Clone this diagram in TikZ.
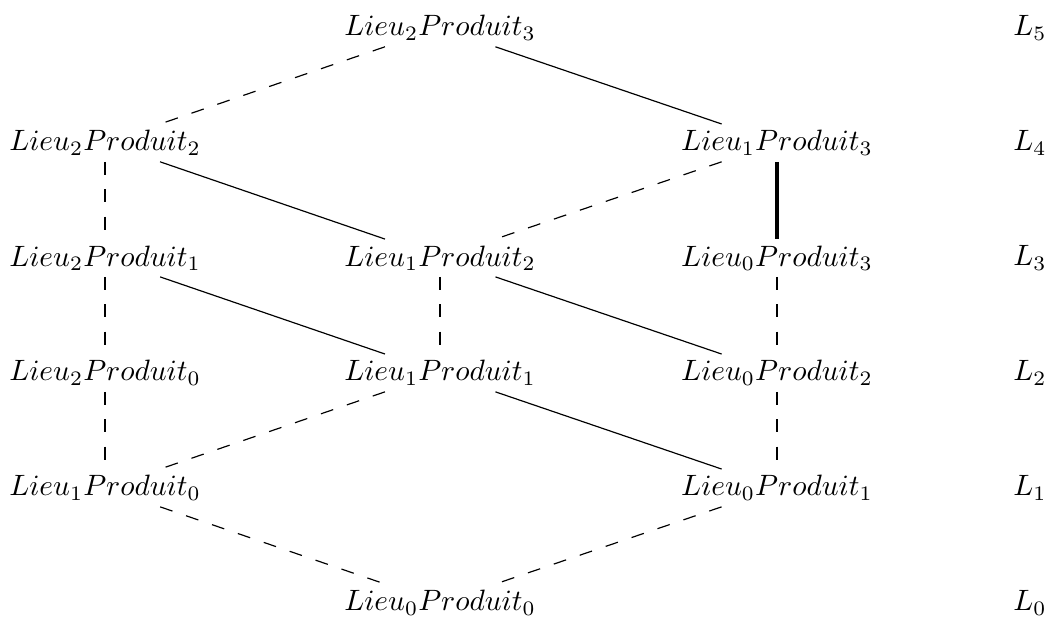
\documentclass[tikz,border=0pt]{standalone}
\usepackage{amsmath,amssymb}
\usepackage{tikz}
\usetikzlibrary{calc}

\tikzset{
  lp/.style={inner sep=2pt},
  pas/.style={dash pattern=on 4.4pt off 4.9pt},
  fort/.style={line width=1.35pt}
}

\begin{document}
\begin{tikzpicture}
		\useasboundingbox (0,0) rectangle (12.594,7.448);
		\node[lp] (l2p3) at (5.253,7.115) {$Lieu_2Produit_3$};
		\node[lp] (l2p2) at (1.254,5.742) {$Lieu_2Produit_2$};
		\node[lp] (l1p3) at (9.275,5.742) {$Lieu_1Produit_3$};
		\node[lp] (l2p1) at (1.254,4.368) {$Lieu_2Produit_1$};
		\node[lp] (l1p2) at (5.253,4.368) {$Lieu_1Produit_2$};
		\node[lp] (l0p3) at (9.275,4.368) {$Lieu_0Produit_3$};
		\node[lp] (l2p0) at (1.254,2.996) {$Lieu_2Produit_0$};
		\node[lp] (l1p1) at (5.253,2.996) {$Lieu_1Produit_1$};
		\node[lp] (l0p2) at (9.275,2.996) {$Lieu_0Produit_2$};
		\node[lp] (l1p0) at (1.254,1.623) {$Lieu_1Produit_0$};
		\node[lp] (l0p1) at (9.275,1.623) {$Lieu_0Produit_1$};
		\node[lp] (l0p0) at (5.253,0.251) {$Lieu_0Produit_0$};
		\node (L5) at (12.295,7.115) {$L_5$};
		\node (L4) at (12.295,5.742) {$L_4$};
		\node (L3) at (12.295,4.368) {$L_3$};
		\node (L2) at (12.295,2.996) {$L_2$};
		\node (L1) at (12.295,1.623) {$L_1$};
		\node (L0) at (12.295,0.251) {$L_0$};
		\draw[pas] (l2p3)--(l2p2);
		\draw (l2p3)--(l1p3);
		\draw[pas] (l2p2)--(l2p1);
		\draw (l2p2)--(l1p2);
		\draw[pas] (l1p3)--(l1p2);
		\draw[fort] (l1p3)--(l0p3);
		\draw[pas] (l2p1)--(l2p0);
		\draw (l2p1)--(l1p1);
		\draw[pas] (l1p2)--(l1p1);
		\draw (l1p2)--(l0p2);
		\draw[pas] (l0p3)--(l0p2);
		\draw[pas] (l2p0)--(l1p0);
		\draw[pas] (l1p1)--(l1p0);
		\draw (l1p1)--(l0p1);
		\draw[pas] (l0p2)--(l0p1);
		\draw[pas] (l1p0)--(l0p0);
		\draw[pas] (l0p1)--(l0p0);
	\end{tikzpicture}
\end{document}
